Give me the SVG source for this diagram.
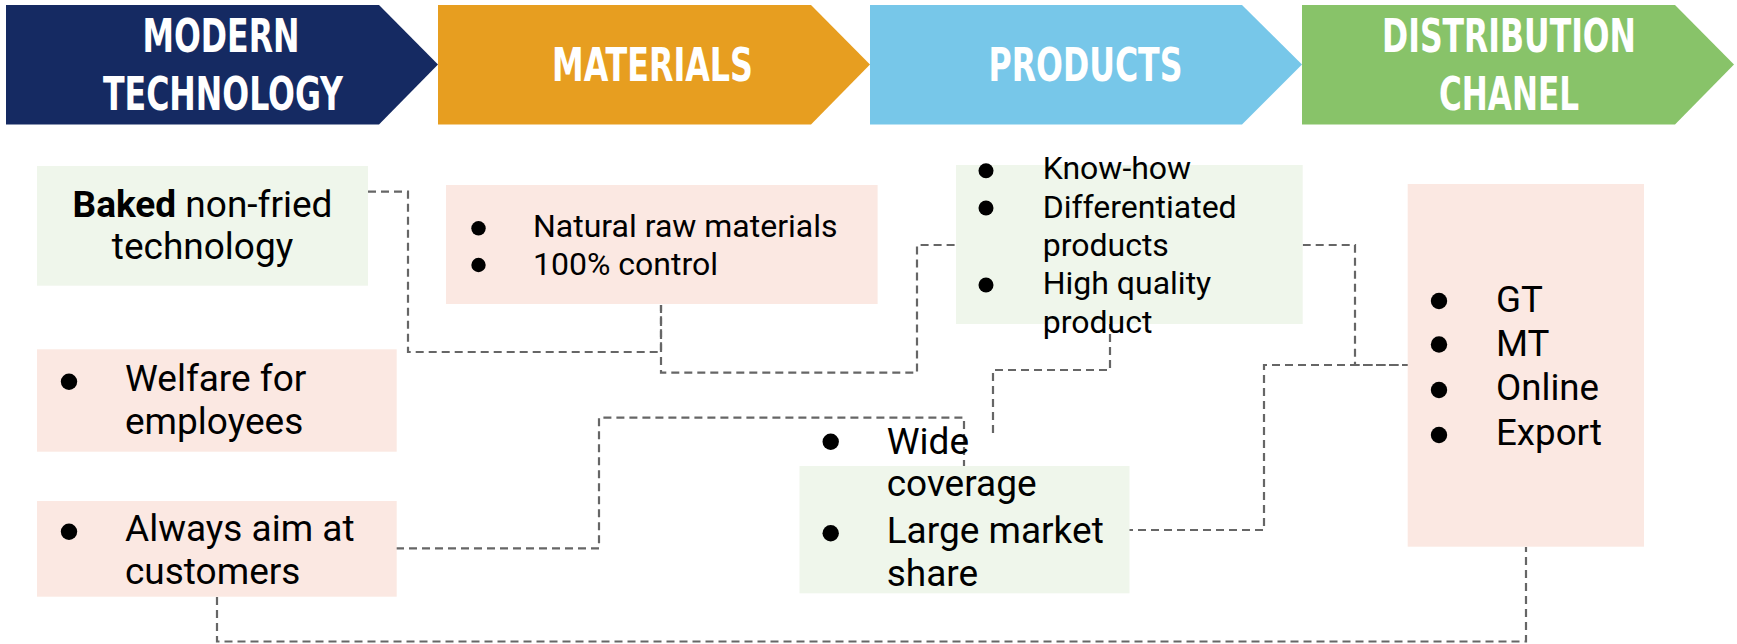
<svg xmlns="http://www.w3.org/2000/svg" width="1737" height="644" viewBox="0 0 1737 644">
<style>
.hdr{font-family:'DejaVu Sans Condensed','DejaVu Sans',sans-serif;font-weight:bold;font-size:47px;fill:#ffffff;text-anchor:middle}
.t{font-family:Roboto,'Liberation Sans',sans-serif;fill:#000000}
.t32{font-size:32px}
.t37{font-size:37px}
.pink{fill:#FBE8E2}
.green{fill:#EFF6EB}
.conn{fill:none;stroke:#666666;stroke-width:2.2;stroke-dasharray:8 5}
.b{fill:#000000}
</style>
<rect width="1737" height="644" fill="#ffffff"/>

<g id="hdr-modern">
<path d="M6,5 H379 L438,64.5 L379,124.5 H6 Z" fill="#152A62"/>
<text class="hdr" x="221" y="52" textLength="157" lengthAdjust="spacingAndGlyphs">MODERN</text>
<text class="hdr" x="223" y="110" textLength="240" lengthAdjust="spacingAndGlyphs">TECHNOLOGY</text>
</g>
<g id="hdr-materials">
<path d="M438,5 H811 L870,64.5 L811,124.5 H438 Z" fill="#E79E20"/>
<text class="hdr" x="652.5" y="81" textLength="201" lengthAdjust="spacingAndGlyphs">MATERIALS</text>
</g>
<g id="hdr-products">
<path d="M870,5 H1242 L1302,64.5 L1242,124.5 H870 Z" fill="#77C7E9"/>
<text class="hdr" x="1085.5" y="81" textLength="194" lengthAdjust="spacingAndGlyphs">PRODUCTS</text>
</g>
<g id="hdr-distribution">
<path d="M1302,5 H1675 L1734,64.5 L1675,124.5 H1302 Z" fill="#88C369"/>
<text class="hdr" x="1509" y="52" textLength="254" lengthAdjust="spacingAndGlyphs">DISTRIBUTION</text>
<text class="hdr" x="1509" y="110" textLength="140" lengthAdjust="spacingAndGlyphs">CHANEL</text>
</g>

<g id="connectors">
<path class="conn" d="M368,191.7 H408 V352 H661 V305"/>
<path class="conn" d="M661,305 V372.7 H917 V245 H956"/>
<path class="conn" d="M1302.7,245 H1355 V365 H1408"/>
<path class="conn" d="M1125,530 H1264 V365 H1408"/>
<path class="conn" d="M1110,308 V370 H993 V433"/>
<path class="conn" d="M396,548.3 H599 V417.7 H964 V466"/>
<path class="conn" d="M217,597 V641.5 H1526 V547"/>
</g>

<g id="node-baked">
<rect class="green" x="37" y="166" width="331" height="119.7"/>
<text class="t t37" x="202.5" y="217" text-anchor="middle"><tspan font-weight="bold">Baked</tspan> non-fried</text>
<text class="t t37" x="202.5" y="258.5" text-anchor="middle">technology</text>
</g>

<g id="node-materials">
<rect class="pink" x="446" y="185" width="431.6" height="119"/>
<circle class="b" cx="478.5" cy="228.3" r="7.2"/>
<circle class="b" cx="478.5" cy="265" r="7.2"/>
<text class="t t32" x="533" y="237">Natural raw materials</text>
<text class="t t32" x="533" y="275">100% control</text>
</g>

<g id="node-products">
<rect class="green" x="956" y="165" width="346.7" height="159"/>
<circle class="b" cx="986" cy="170.7" r="7.5"/>
<circle class="b" cx="986" cy="208" r="7.5"/>
<circle class="b" cx="986" cy="285" r="7.5"/>
<text class="t t32" x="1042.7" y="179">Know-how</text>
<text class="t t32" x="1042.7" y="217.7">Differentiated</text>
<text class="t t32" x="1042.7" y="255.5">products</text>
<text class="t t32" x="1042.7" y="294">High quality</text>
<text class="t t32" x="1042.7" y="333">product</text>
</g>

<g id="node-distribution">
<rect class="pink" x="1407.7" y="184" width="236.3" height="362.7"/>
<circle class="b" cx="1439" cy="301" r="8.2"/>
<circle class="b" cx="1439" cy="344.5" r="8.2"/>
<circle class="b" cx="1439" cy="390" r="8.2"/>
<circle class="b" cx="1439" cy="435" r="8.2"/>
<text class="t" font-size="36.7" x="1496" y="311.7">GT</text>
<text class="t" font-size="36.7" x="1496" y="355.7">MT</text>
<text class="t" font-size="36.7" x="1496" y="400">Online</text>
<text class="t" font-size="36.7" x="1496" y="445">Export</text>
</g>

<g id="node-welfare">
<rect class="pink" x="37" y="349.3" width="359.7" height="102.4"/>
<circle class="b" cx="69" cy="381.7" r="8.2"/>
<text class="t t37" x="125" y="391">Welfare for</text>
<text class="t t37" x="125" y="434">employees</text>
</g>

<g id="node-always">
<rect class="pink" x="37" y="501" width="359.7" height="95.7"/>
<circle class="b" cx="69" cy="531.7" r="8.2"/>
<text class="t t37" x="125" y="541">Always aim at</text>
<text class="t t37" x="125" y="584">customers</text>
</g>

<g id="node-wide">
<rect class="green" x="799.5" y="466" width="330" height="127.3"/>
<circle class="b" cx="830.7" cy="441.7" r="8.2"/>
<circle class="b" cx="830.7" cy="533.3" r="8.2"/>
<text class="t t37" x="886.7" y="454">Wide</text>
<text class="t t37" x="886.7" y="496">coverage</text>
<text class="t t37" x="886.7" y="543">Large market</text>
<text class="t t37" x="886.7" y="586">share</text>
</g>
</svg>
